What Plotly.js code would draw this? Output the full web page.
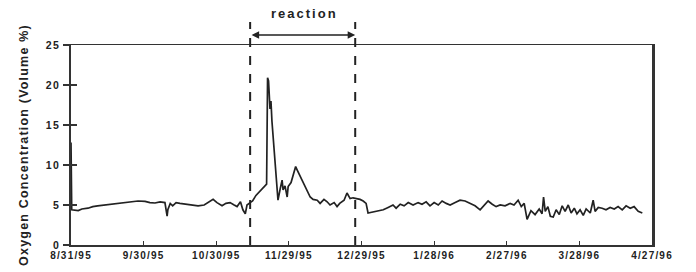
<!DOCTYPE html>
<html>
<head>
<meta charset="utf-8">
<script src="https://cdn.plot.ly/plotly-3.0.1.min.js"></script>
<style>
html,body{margin:0;padding:0;background:#fff}
#chart{width:696px;height:272px}
#chart .xtick text{letter-spacing:1.2px}
#chart .ytick text{letter-spacing:1.5px}
#chart text.ytitle{letter-spacing:1.2px}
#chart .annotation text{letter-spacing:2px}
</style>
</head>
<body>
<div id="chart"></div>
<script>
// Start date of the record and days elapsed for each reading
const startDate = "1995-08-31";
const dayOffset = [0,0.3,3,4.5,7,9,11,13.6,16,18.6,21,23.6,25,27.7,30.6,32.6,34.7,36.8,38.8,39.7,40,41,42,43.4,45,47.5,50,52.5,55,57.4,58.7,60.3,62.4,64,65.7,67.4,68.6,70,71,72,72.7,74,75,76.4,77.7,79,80,80.8,81.2,81.6,82.2,82.6,83,83.5,84.3,84.7,85.1,85.5,86.4,87.2,87.6,88.4,89.3,89.7,90.9,92.1,92.8,93.4,94.6,95.9,97.1,98.8,100,101.7,102.9,104.5,105.8,107,108.7,109.9,111,112.8,114,115.3,116.5,117.8,119.4,120.7,121.9,122.7,124.4,126.4,129,131,133,134.3,136,137.6,139.3,141.3,143.4,145,146.7,148.3,150,151.7,153.3,155,156.6,158.7,160.7,162.8,164.9,166.9,169,170.7,172.3,174,175.6,177.3,179.3,181.4,183,184.7,186,187.2,188.4,190,191.7,193.4,194.6,195.2,195.9,197,198,199.2,200.4,201.7,202.9,204.1,205.4,206.6,207.9,209,210.3,211.6,212.8,214.5,215.7,216.5,217.8,219.4,221,222.7,224.4,226,227.7,229.3,231,232.6,234.3,236];
const oxygen = [12.8,4.4,4.3,4.5,4.6,4.8,4.9,5.0,5.1,5.2,5.3,5.35,5.4,5.5,5.45,5.3,5.25,5.4,5.3,3.6,4.4,5.2,4.9,5.3,5.2,5.1,4.95,4.9,5.0,5.5,5.7,5.3,4.9,5.2,5.3,5.0,4.8,5.4,4.4,3.9,5.0,5.3,5.5,6.2,6.6,7.0,7.4,7.6,20.9,20.5,17.0,18.0,15.5,13.5,10.6,8.0,6.5,5.6,7.0,8.1,6.9,7.4,6.0,7.3,7.8,9.2,9.8,9.4,8.6,7.8,7.0,6.0,5.7,5.6,5.2,5.7,5.4,5.0,5.3,4.8,5.2,5.6,6.5,5.8,5.9,5.8,5.7,5.5,5.2,4.0,4.1,4.3,4.4,4.7,5.0,4.6,5.1,4.9,5.3,5.0,5.3,5.1,5.4,4.9,5.3,5.0,5.5,5.2,5.0,5.3,5.6,5.5,5.2,4.9,4.4,4.9,5.5,5.1,4.8,5.0,4.9,5.2,5.0,5.6,4.8,5.2,3.2,4.3,3.8,4.5,3.9,6.0,4.2,4.8,3.6,3.5,4.4,3.8,4.9,4.2,5.0,4.0,4.6,3.9,4.4,3.7,4.5,4.0,5.6,4.2,4.7,4.6,4.4,4.7,4.5,4.8,4.4,4.9,4.6,4.8,4.2,4.0];
const tickDays = [0,30,60,90,120,150,180,210,240];
const tickLabels = ["8/31/95","9/30/95","10/30/95","11/29/95","12/29/95","1/28/96","2/27/96","3/28/96","4/27/96"];
const yTicks = [0,5,10,15,20,25];
const reactionDays = [74,117.4];
const reactionLabel = "reaction";
const yTitle = "Oxygen Concentration (Volume %)";

const base = Date.UTC(1995,7,31);
function toDate(d){return new Date(base + d*86400000).toISOString().slice(0,19).replace('T',' ');}
const xs = dayOffset.map(toDate);
const tickVals = tickDays.map(toDate);
const rx = reactionDays.map(toDate);

const fnt = {family:"Liberation Sans, Arial, sans-serif", size:10, color:"#222", weight:"bold"};

const data = [
  {x: xs, y: oxygen, type:"scatter", mode:"lines", line:{color:"#222", width:1.7}, hoverinfo:"skip"},
  {x:[xs[0]], y:[null], yaxis:"y2", type:"scatter", mode:"lines", showlegend:false, hoverinfo:"skip"}
];

const layout = {
  width:696, height:272,
  margin:{l:71, r:44, t:45, b:27},
  paper_bgcolor:"#fff", plot_bgcolor:"#fff",
  showlegend:false,
  xaxis:{
    type:"date", range:[toDate(0), toDate(240)],
    tickvals:tickVals, ticktext:tickLabels,
    ticks:"inside", ticklen:4, tickwidth:1.2, tickcolor:"#333",
    showgrid:false, zeroline:false,
    showline:true, linecolor:"#333", linewidth:1.5, mirror:true,
    tickfont:fnt, tickangle:0
  },
  yaxis:{
    range:[0,25], tickvals:yTicks,
    ticks:"outside", ticklen:6, tickwidth:1.2, tickcolor:"#333",
    showgrid:false, zeroline:false,
    showline:true, linecolor:"#333", linewidth:2.5, mirror:true,
    tickfont:{...fnt, size:10.5},
    title:{text:yTitle, font:{...fnt, size:12.5}, standoff:18}
  },
  yaxis2:{
    overlaying:"y", range:[0,25], tickvals:yTicks,
    ticks:"inside", ticklen:6, tickwidth:1.2, tickcolor:"#333",
    showticklabels:false, showgrid:false, zeroline:false, showline:false
  },
  shapes: rx.map(d => ({type:"line", xref:"x", yref:"paper", x0:d, x1:d, y0:0, y1:1.115,
    line:{color:"#222", width:2, dash:"dash"}})),
  annotations:[
    {xref:"x", yref:"paper", x:rx[1], y:1.05, axref:"x", ayref:"pixel", ax:rx[0], ay:0,
     showarrow:true, arrowhead:2, arrowside:"end+start", arrowsize:1, arrowwidth:1.5, arrowcolor:"#222", text:""},
    {xref:"paper", yref:"paper", x:(304-71)/581, y:1.11, xanchor:"center", yanchor:"bottom",
     text:reactionLabel, showarrow:false, font:{...fnt, size:13}}
  ]
};

Plotly.newPlot("chart", data, layout, {staticPlot:true, displayModeBar:false});
</script>
</body>
</html>
